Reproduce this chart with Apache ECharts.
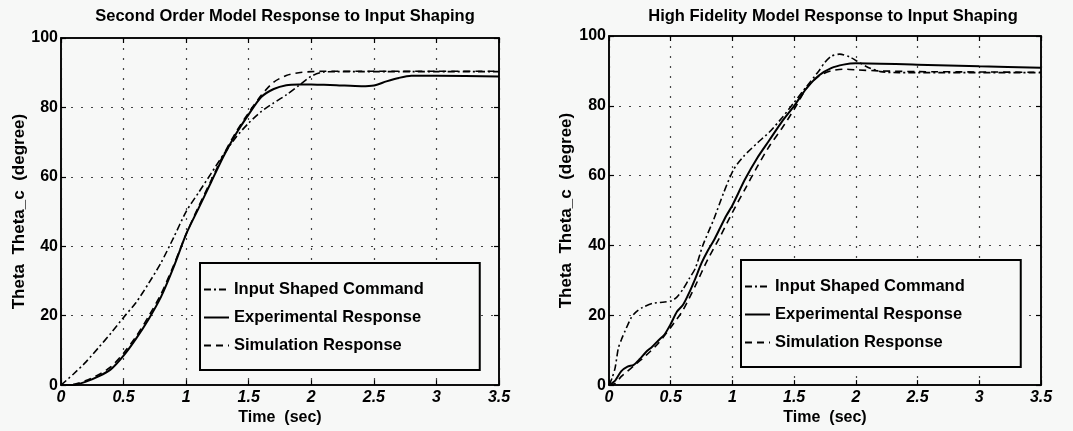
<!DOCTYPE html>
<html>
<head>
<meta charset="utf-8">
<script src="https://cdn.jsdelivr.net/npm/echarts@6/dist/echarts.min.js"></script>
<style>
  html, body { margin: 0; padding: 0; background: #f7f8f7; }
  #chart { width: 1073px; height: 431px; }
</style>
</head>
<body>
<div id="chart"></div>
<script>
// left plot: second order model
let timeL = [0, 0.1, 0.2, 0.3, 0.4, 0.5, 0.6, 0.7, 0.8, 0.9, 1.0, 1.1, 1.2, 1.3, 1.4, 1.5, 1.6, 1.7, 1.8, 1.9, 2.0, 2.1, 2.2, 2.4, 2.5, 2.6, 2.7, 2.8, 3.0, 3.5];
let cmdL = [0, 3.2, 6.7, 10.8, 15, 19.5, 23.8, 29.3, 35.3, 42.5, 50, 55.5, 61, 66.5, 71.5, 75.5, 78.8, 81.3, 83.6, 86.3, 89, 90.2, 90.3, 90.3, 90.3, 90.3, 90.3, 90.3, 90.3, 90.3];
let expL = [0, 0, 1, 2.5, 4.6, 8.5, 13.4, 19, 25.5, 34, 43.5, 51, 58.5, 66, 72.5, 78, 83, 85.3, 86.4, 86.6, 86.6, 86.5, 86.4, 86.1, 86.3, 87.5, 88.5, 89.1, 89.1, 88.9];
let simL = [0, 0.2, 1.3, 3, 5.3, 9.2, 14, 19.8, 26.3, 34.5, 43.5, 51.5, 59, 66.5, 73, 78.5, 83.5, 87.3, 89.2, 90, 90.3, 90.4, 90.4, 90.4, 90.4, 90.4, 90.4, 90.4, 90.4, 90.4];

// right plot: high fidelity model
let timeCmdR = [0, 0.025, 0.05, 0.075, 0.1, 0.13, 0.18, 0.22, 0.27, 0.35, 0.45, 0.51, 0.55, 0.6, 0.65, 0.7, 0.76, 0.85, 0.93, 1.01, 1.09, 1.2, 1.3, 1.4, 1.5, 1.6, 1.7, 1.75, 1.8, 1.87, 1.95, 2.0, 2.1, 2.2, 2.35, 3.5];
let cmdR = [0, 2, 5, 10.5, 13, 15.5, 19.3, 21, 22.2, 23.4, 23.8, 24.2, 25.2, 27.5, 30.5, 33.5, 40, 47.6, 55.2, 61.8, 65.5, 69.3, 72.5, 76.5, 81, 85.5, 90, 92.5, 94.2, 94.8, 94, 93, 91, 89.8, 89.5, 89.5];
let timeExpR = [0, 0.05, 0.1, 0.15, 0.2, 0.25, 0.3, 0.35, 0.4, 0.45, 0.5, 0.55, 0.6, 0.65, 0.7, 0.75, 0.8, 0.85, 0.9, 0.95, 1.0, 1.1, 1.2, 1.3, 1.4, 1.5, 1.6, 1.7, 1.8, 1.9, 2.0, 2.5, 3.0, 3.5];
let expR = [0, 1.3, 4, 5.3, 5.8, 7.5, 9.5, 11, 12.8, 14.5, 17.5, 21, 23, 26.5, 30.6, 35, 38.5, 41.5, 45, 48.5, 51.5, 58.8, 65, 70.2, 75.4, 80, 85, 88.7, 90.8, 91.8, 92.2, 91.8, 91.3, 90.9];
let timeSimR = [0, 0.05, 0.1, 0.15, 0.2, 0.3, 0.4, 0.5, 0.6, 0.7, 0.8, 0.9, 1.0, 1.1, 1.2, 1.3, 1.4, 1.5, 1.6, 1.7, 1.8, 1.9, 2.0, 2.2, 2.5, 3.0, 3.5];
let simR = [0, 0.5, 2.5, 4, 5.5, 8.5, 12, 16.5, 21.5, 28.5, 36, 42.5, 49.5, 56, 62.5, 68.5, 73.5, 79, 85, 88.5, 90, 90.5, 90.3, 90, 89.8, 89.7, 89.6];

let xTicks = ['0', '0.5', '1', '1.5', '2', '2.5', '3', '3.5'];
let seriesNames = ['Input Shaped Command', 'Experimental Response', 'Simulation Response'];
let titles = ['Second Order Model Response to Input Shaping', 'High Fidelity Model Response to Input Shaping'];

const FONT = '"Liberation Sans", Arial, Helvetica, sans-serif';
const BG = '#f7f8f7';

const zip = (t, v) => {
  let out = [];
  for (let i = 0; i < t.length; i++) {
    out.push([t[i], v[i]]);
  }
  return out;
}

const dashDot = [7, 3, 2, 3];
const dashed = [7, 5];

const makeX = (grid, pos) => {
  return {
    type: 'value', gridIndex: grid, position: pos, min: 0, max: 3.5, interval: 0.5,
    axisLine: { show: true, onZero: false, lineStyle: { color: '#000', width: 1.5 } },
    axisTick: { show: true, inside: true, length: 5, lineStyle: { color: '#000', width: 1.2 } },
    axisLabel: {
      show: pos === 'bottom', color: '#000', fontFamily: FONT, fontSize: 16, fontWeight: 'bold',
      fontStyle: 'italic', margin: 4,
      formatter: (v) => xTicks[Math.round(v / 0.5)]
    },
    splitLine: { show: pos === 'bottom', lineStyle: { color: '#444', type: [2, 8], width: 1.2 } },
    name: pos === 'bottom' ? 'Time  (sec)' : '',
    nameLocation: 'middle', nameGap: 23,
    nameTextStyle: { color: '#000', fontFamily: FONT, fontSize: 16, fontWeight: 'bold' }
  }
}

const makeY = (grid, pos, gap) => {
  return {
    type: 'value', gridIndex: grid, position: pos, min: 0, max: 100, interval: 20,
    axisLine: { show: true, onZero: false, lineStyle: { color: '#000', width: 1.5 } },
    axisTick: { show: true, inside: true, length: 5, lineStyle: { color: '#000', width: 1.2 } },
    axisLabel: { show: pos === 'left', color: '#000', fontFamily: FONT, fontSize: 16, fontWeight: 'bold', margin: 3 },
    splitLine: { show: pos === 'left', lineStyle: { color: '#444', type: [2, 8], width: 1.2 } },
    name: pos === 'left' ? 'Theta  Theta_c  (degree)' : '',
    nameLocation: 'middle', nameGap: gap,
    nameTextStyle: { color: '#000', fontFamily: FONT, fontSize: 17, fontWeight: 'bold' }
  }
}

const makeSeries = (name, idx, data, type, width) => {
  return {
    name: name, type: 'line', xAxisIndex: idx, yAxisIndex: idx,
    data: data, symbol: 'none', smooth: 0.25,
    lineStyle: { color: '#000', width: width, type: type },
    itemStyle: { color: '#000' },
    z: 3
  }
}

const makeLegend = (left, top) => {
  return {
    left: left, top: top, orient: 'vertical',
    data: seriesNames,
    itemWidth: 25, itemHeight: 14, itemGap: 11,
    padding: [18, 56, 16, 3],
    borderColor: '#000', borderWidth: 2, backgroundColor: BG,
    selectedMode: false,
    // hide the marker dot, keep only the line sample
    itemStyle: { color: 'rgba(0,0,0,0)', borderWidth: 0, opacity: 0 },
    textStyle: { color: '#000', fontFamily: FONT, fontSize: 16.5, fontWeight: 'bold' }
  }
}

let chart = echarts.init(document.getElementById('chart'));

let option = {
  backgroundColor: BG,
  animation: false,
  title: [
    { text: titles[0], left: 280, top: 3, textAlign: 'center',
      textStyle: { color: '#000', fontFamily: FONT, fontSize: 16.5, fontWeight: 'bold' } },
    { text: titles[1], left: 828, top: 3, textAlign: 'center',
      textStyle: { color: '#000', fontFamily: FONT, fontSize: 16.5, fontWeight: 'bold' } }
  ],
  grid: [
    { left: 61, top: 38, width: 438, height: 350, show: true, borderColor: '#000', borderWidth: 1.5 },
    { left: 609, top: 36, width: 432, height: 352, show: true, borderColor: '#000', borderWidth: 1.5 }
  ],
  xAxis: [makeX(0, 'bottom'), makeX(1, 'bottom'), makeX(0, 'top'), makeX(1, 'top')],
  yAxis: [makeY(0, 'left', 33), makeY(1, 'left', 34), makeY(0, 'right', 0), makeY(1, 'right', 0)],
  legend: [makeLegend(200, 263), makeLegend(741, 260)],
  series: [
    makeSeries(seriesNames[0], 0, zip(timeL, cmdL), dashDot, 1.6),
    makeSeries(seriesNames[1], 0, zip(timeL, expL), 'solid', 2),
    makeSeries(seriesNames[2], 0, zip(timeL, simL), dashed, 1.6),
    makeSeries(seriesNames[0], 1, zip(timeCmdR, cmdR), dashDot, 1.6),
    makeSeries(seriesNames[1], 1, zip(timeExpR, expR), 'solid', 2),
    makeSeries(seriesNames[2], 1, zip(timeSimR, simR), dashed, 1.6)
  ]
}

chart.setOption(option);
</script>
</body>
</html>
